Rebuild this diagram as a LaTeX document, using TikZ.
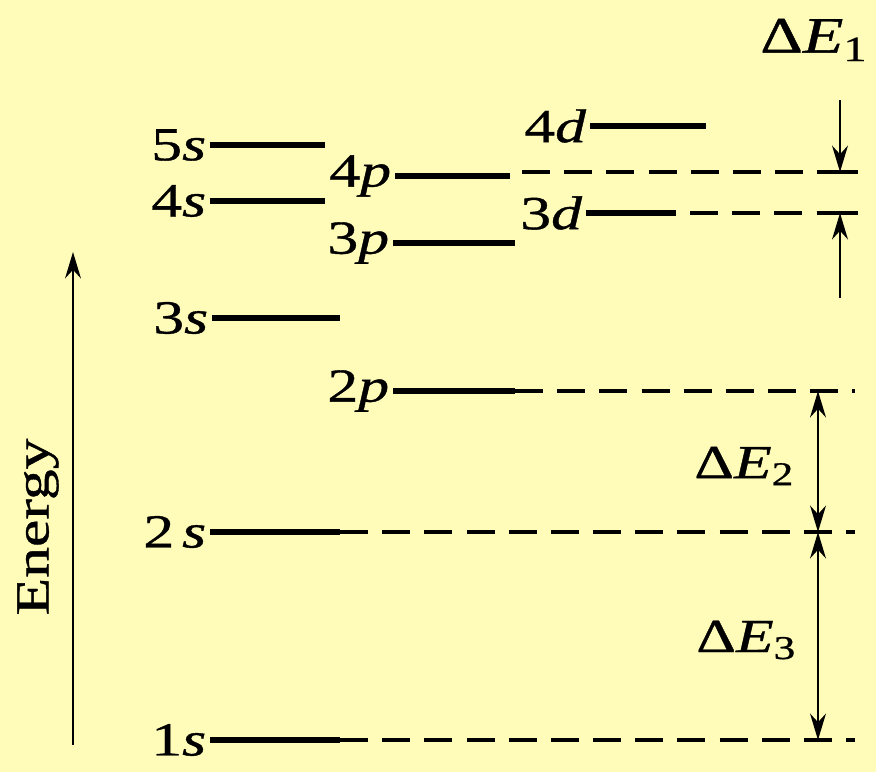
\documentclass[tikz,border=0pt]{standalone}
\usepackage{fontspec}
\setmainfont{Liberation Serif}[FakeStretch=1.3,FakeBold=0.8]
\usepackage{tikz}
\usetikzlibrary{positioning,calc,arrows.meta}
\definecolor{paper}{RGB}{255,251,185}

\tikzset{
  level/.style={line width=3.2pt},
  guide/.style={line width=2pt, dash pattern=on 16pt off 8pt},
  lbl/.style={anchor=east, inner sep=2pt, font=\fontsize{27}{30}\selectfont},
  gap/.style={line width=1.6pt, -{Stealth[length=15pt,width=9pt]}},
  gapboth/.style={line width=1.6pt, {Stealth[length=15pt,width=9pt]}-{Stealth[length=15pt,width=9pt]}},
}

\begin{document}
\begin{tikzpicture}[x=0.02cm, y=-0.02cm]
    \fill[paper] (0,0) rectangle (876,772);
    \useasboundingbox (0,0) rectangle (876,772);

    % Energieachse
    \coordinate (ebot) at (73,745);
    \coordinate (etop) at (73,252);
    \draw[gap] (ebot) -- (etop);
    \node[rotate=90, font=\fontsize{27}{30}\selectfont] (energy) at (38,527) {Energy};

    % s-Niveaus
    \node[lbl] (s5) at (210,145) {5\textit{s}};
    \node[lbl] (s4) at (210,201) {4\textit{s}};
    \node[lbl] (s3) at (212,318) {3\textit{s}};
    \node[lbl] (s2) at (210,532) {2\,\textit{s}};
    \node[lbl] (s1) at (210,740) {1\textit{s}};
    \draw[level] (s5.east) -- ++(115,0);
    \draw[level] (s4.east) -- ++(115,0);
    \draw[level] (s3.east) -- ++(128,0);
    \draw[level] (s2.east) -- ++(130,0) coordinate (s2end);
    \draw[level] (s1.east) -- ++(130,0) coordinate (s1end);

    % p-Niveaus
    \node[lbl] (p4) at (395,176) {4\textit{p}};
    \node[lbl] (p3) at (393,243) {3\textit{p}};
    \node[lbl] (p2) at (393,391) {2\textit{p}};
    \draw[level] (p4.east) -- ++(115,0) coordinate (p4end);
    \draw[level] (p3.east) -- ++(122,0);
    \draw[level] (p2.east) -- ++(122,0) coordinate (p2end);

    % d-Niveaus
    \node[lbl] (d4) at (590,126) {4\textit{d}};
    \node[lbl] (d3) at (586,213) {3\textit{d}};
    \draw[level] (d4.east) -- ++(116,0);
    \draw[level] (d3.east) -- ++(90,0) coordinate (d3end);

    % Hilfslinien
    \draw[guide] ($(p4end)+(12,-4)$) -- (855,172);
    \draw[guide] ($(d3end)+(14,0)$) -- (855,213);
    \draw[guide] (p2end) -- (855,391);
    \draw[guide] (s2end) -- (855,532);
    \draw[guide] (s1end) -- (855,740);

    % Delta E_1
    \coordinate (a1) at (840,100);
    \coordinate (b1) at (840,172);
    \coordinate (a2) at (840,298);
    \coordinate (b2) at (840,213);
    \draw[gap] (a1) -- (b1);
    \draw[gap] (a2) -- (b2);
    \draw[line width=1.8pt] ($(b1)+(-18,0)$) -- ++(36,0);
    \draw[line width=1.8pt] ($(b2)+(-18,0)$) -- ++(36,0);
    \node[font=\fontsize{29}{32}\selectfont, anchor=west, inner sep=0pt] (de1) at (760,40) {Δ\textit{E}\textsubscript{1}};

    % Delta E_2, Delta E_3
    \coordinate (t2) at (818,391);
    \coordinate (m2) at (818,532);
    \coordinate (b3) at (818,740);
    \draw[gapboth] (t2) -- (m2);
    \draw[gapboth] (m2) -- (b3);
    \node[lbl] (de2) at (798,466) {Δ\textit{E}\textsubscript{2}};
    \node[lbl] (de3) at (800,640) {Δ\textit{E}\textsubscript{3}};
\end{tikzpicture}
\end{document}
